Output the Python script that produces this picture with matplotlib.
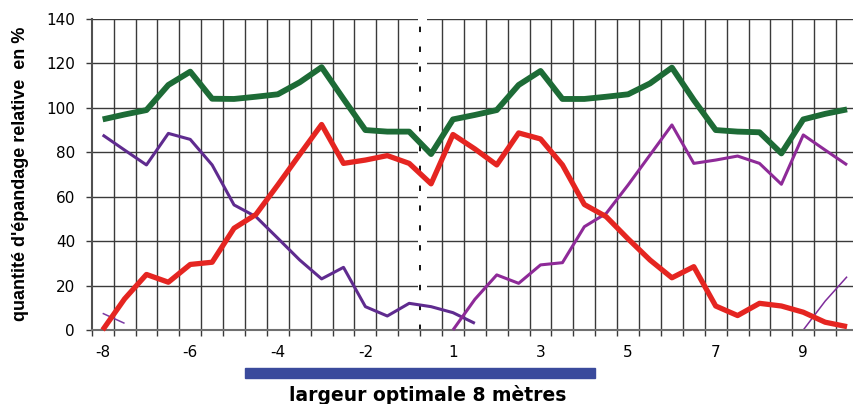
import numpy as np
import matplotlib
matplotlib.use("Agg")
import matplotlib.pyplot as plt
from matplotlib.patches import Rectangle
from matplotlib.transforms import blended_transform_factory

# categories (metres) - the axis is categorical, one slot every 0.5 m
categories = [-8, -7.5, -7, -6.5, -6, -5.5, -5, -4.5, -4, -3.5, -3, -2.5,
              -2, -1.5, -1, -0.5, 1, 1.5, 2, 2.5, 3, 3.5, 4, 4.5, 5, 5.5,
              6, 6.5, 7, 7.5, 8, 8.5, 9, 9.5, 10]

# total spreading (green)
total = [94.8, 97, 99, 110.3, 116.3, 104.1, 104, 105, 106.1, 111.5, 118.3,
         104, 90, 89.3, 89.3, 79.2, 94.8, 96.8, 99, 110.3, 116.6, 104, 104,
         105, 106.1, 111, 118.1, 103.5, 90, 89.3, 89, 79.5, 94.8, 97.3, 99.3]

# one pass (red)
one_pass = [0, 14, 25, 21.5, 29.5, 30.5, 45.8, 52, 65.3, 79, 92.5, 75, 76.5,
            78.5, 75, 65.8, 88, 81.5, 74.3, 88.7, 86, 74.3, 56.5, 51, 41,
            31.5, 23.5, 28.5, 10.8, 6.5, 12, 10.8, 8, 3.5, 1.5]

# neighbouring passes (purple)
left_pass_start = 0
left_pass = [87.8, 81, 74.3, 88.5, 85.8, 74.3, 56.3, 51, 41.3, 31.5, 23,
             28.2, 10.5, 6.3, 12, 10.5, 7.8, 3]
right_pass_start = 16
right_pass = [0, 13.8, 24.8, 21, 29.3, 30.3, 46.5, 52.5, 65.3, 78.8, 92.3,
              75, 76.5, 78.3, 75, 65.6, 87.8, 81, 74.3]
far_left_start = 0
far_left = [7.5, 3]
far_right_start = 32
far_right = [0, 13, 24]

y_ticks = [0, 20, 40, 60, 80, 100, 120, 140]

x = np.arange(len(categories))

fig = plt.figure(figsize=(8.54, 4.04), dpi=100)
ax = fig.add_axes([0.1074, 0.1832, 0.8973, 0.7698])

gridc = '#3a3a3a'
ax.set_xlim(-0.5, len(categories) - 0.5)
ax.set_ylim(0, 140)
ax.set_yticks(y_ticks)
ax.set_xticks(x[::4])
ax.set_xticklabels(['%g' % c for c in categories[::4]])
bounds = np.arange(len(categories)) - 0.5
ax.set_xticks(bounds, minor=True)

ax.set_axisbelow(True)
ax.grid(axis='y', color=gridc, lw=1.0)
# vertical grid on category boundaries except the centre one (dashed)
for b in bounds[1:]:
    if b == 14.5:
        continue
    ax.axvline(b, color=gridc, lw=1.0, zorder=0.5)

# white gap behind the centre line
ax.axvspan(14.42, 14.8, color='white', lw=0, zorder=0.8)
ax.axvline(14.5, color='black', lw=1.3, linestyle=(0, (3, 8)), zorder=0.9)

ax.tick_params(axis='x', which='major', length=0, pad=11, labelsize=11)
ax.tick_params(axis='x', which='minor', length=4, width=1.0, color=gridc,
               direction='out')
ax.tick_params(axis='y', length=4, width=1.0, color=gridc, pad=8,
               labelsize=11)

for s in ['top', 'right']:
    ax.spines[s].set_visible(False)
ax.spines['left'].set_color('#505050')
ax.spines['left'].set_linewidth(1.5)
ax.spines['bottom'].set_color('#707070')
ax.spines['bottom'].set_linewidth(1.5)

kw = dict(solid_joinstyle='round', solid_capstyle='butt', clip_on=False)
ax.plot(x[far_left_start:far_left_start + len(far_left)], far_left,
        color='#7b3aa5', lw=1.1, zorder=2, **kw)
ax.plot(x[far_right_start:far_right_start + len(far_right)], far_right,
        color='#7e2c9b', lw=1.1, zorder=2, **kw)
ax.plot(x[left_pass_start:left_pass_start + len(left_pass)], left_pass,
        color='#5f2b8f', lw=2.2, zorder=3, **kw)
ax.plot(x[right_pass_start:right_pass_start + len(right_pass)], right_pass,
        color='#8e2a98', lw=2.2, zorder=3, **kw)
ax.plot(x, one_pass, color='#e52521', lw=3.8, zorder=4, **kw)
ax.plot(x, total, color='#1d6b36', lw=4.2, zorder=5, **kw)

# blue bar marking the optimal 8 m width
tr = blended_transform_factory(ax.transData, fig.transFigure)
ax.add_patch(Rectangle((6.5, 1 - 377.7 / 404), 16, 10 / 404, transform=tr,
                       color='#3a4a9c', clip_on=False))

fig.text(0.501, 1 - 395 / 404, 'largeur optimale 8 mètres', ha='center',
         va='center', fontsize=13.5, fontweight='bold', family='DejaVu Sans')
fig.text(21 / 854, 1 - 174 / 404, "quantité d'épandage relative  en %",
         rotation=90, ha='center', va='center', fontsize=13,
         fontweight='bold', family='Liberation Sans')

fig.savefig('out.png', dpi=100)
